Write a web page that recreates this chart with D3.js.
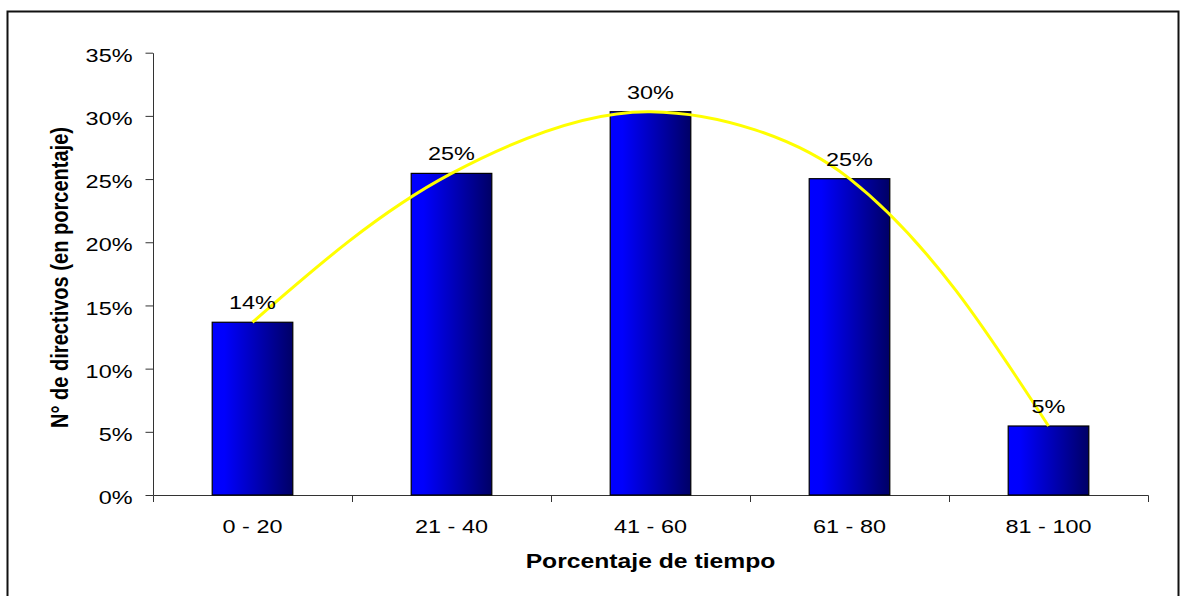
<!DOCTYPE html>
<html>
<head>
<meta charset="utf-8">
<script src="https://cdn.jsdelivr.net/npm/d3@7"></script>
<style>
  html, body { margin: 0; padding: 0; background: #fff; }
  svg { display: block; }
  text { font-family: "Liberation Sans", Arial, sans-serif; }
</style>
</head>
<body>
<svg id="chart" width="1182" height="596"></svg>
<script>
// ---- data ----
const categories = ["0 - 20", "21 - 40", "41 - 60", "61 - 80", "81 - 100"];
const shares = [0.1367, 0.2545, 0.3033, 0.2503, 0.0546];
const yTicks = [0, 0.05, 0.10, 0.15, 0.20, 0.25, 0.30, 0.35];
const xTitle = "Porcentaje de tiempo";
const yTitle = "N° de directivos (en porcentaje)";

// ---- layout ----
const W = 1182, H = 596;
const plot = { left: 153, right: 1148, top: 52.7, bottom: 495 };
const textStretch = 1.26;   // text is drawn horizontally widened
const barFrac = 0.405;      // bar width as a share of the category band
const axisColor = "#333";
const pct = d3.format(".0%");

const svg = d3.select("#chart");

// horizontal gradient for the bars: bright blue to navy
const grad = svg.append("defs").append("linearGradient")
  .attr("id", "barFill").attr("x1", 0).attr("x2", 1).attr("y1", 0).attr("y2", 0);
grad.append("stop").attr("offset", "0%").attr("stop-color", "#0000ff");
grad.append("stop").attr("offset", "15%").attr("stop-color", "#0000fd");
grad.append("stop").attr("offset", "100%").attr("stop-color", "#000066");

// outer frame
svg.append("rect")
  .attr("x", 7.5).attr("y", 11.5).attr("width", 1171).attr("height", H + 10)
  .attr("fill", "none").attr("stroke", "#111").attr("stroke-width", 2);

// ---- scales ----
const x = d3.scaleBand(categories, [plot.left, plot.right]);
const y = d3.scaleLinear([0, 0.35], [plot.bottom, plot.top]);

function stretch(sel, k) {
  sel.each(function () {
    const w = this.getComputedTextLength();
    this.setAttribute("textLength", w * k);
    this.setAttribute("lengthAdjust", "spacingAndGlyphs");
  });
}

// ---- y axis ----
const gy = svg.append("g")
  .attr("transform", `translate(${plot.left},0)`)
  .call(d3.axisLeft(y).tickValues(yTicks).tickFormat(pct)
    .tickSize(7.5).tickSizeOuter(0).tickPadding(13));
gy.attr("font-family", null).attr("font-size", null);
gy.select(".domain").attr("stroke", axisColor);
gy.selectAll(".tick line").attr("stroke", axisColor);
gy.selectAll(".tick text")
  .attr("font-size", 18.6).attr("fill", "#000").attr("dy", "0.465em")
  .call(stretch, textStretch);

// ---- x axis ----
const gx = svg.append("g")
  .attr("transform", `translate(0,${plot.bottom})`)
  .call(d3.axisBottom(x).tickSize(0).tickSizeOuter(0).tickPadding(25));
gx.attr("font-family", null).attr("font-size", null);
gx.select(".domain").attr("stroke", axisColor);
gx.selectAll(".tick text")
  .attr("font-size", 18.6).attr("fill", "#000")
  .call(stretch, textStretch);

// tick marks sit between the categories
const bounds = categories.map(c => x(c)).concat([x(categories[categories.length - 1]) + x.bandwidth()]);
gx.selectAll("line.bound").data(bounds).join("line")
  .attr("class", "bound")
  .attr("x1", d => Math.round(d) + 0.5).attr("x2", d => Math.round(d) + 0.5)
  .attr("y1", 0.5).attr("y2", 7)
  .attr("stroke", axisColor);

// ---- bars ----
const rows = categories.map((c, i) => ({ c, v: shares[i] }));
svg.append("g").selectAll("rect").data(rows).join("rect")
  .attr("x", d => x(d.c) + x.bandwidth() * (1 - barFrac) / 2)
  .attr("width", x.bandwidth() * barFrac)
  .attr("y", d => y(d.v))
  .attr("height", d => y(0) - y(d.v))
  .attr("fill", "url(#barFill)")
  .attr("stroke", "#000").attr("stroke-width", 1.2);

// ---- smoothed line through the bar tops ----
// Bezier spline: interior handles follow the neighbour chord, scaled by the
// adjacent segment lengths; the two ends use a natural (zero-curvature) handle.
function smoothCurve(context) {
  let pts = [];
  return {
    areaStart() {}, areaEnd() {},
    lineStart() { pts = []; },
    point(px, py) { pts.push([+px, +py]); },
    lineEnd() {
      const n = pts.length;
      if (!n) return;
      context.moveTo(pts[0][0], pts[0][1]);
      if (n === 2) { context.lineTo(pts[1][0], pts[1][1]); return; }
      if (n < 2) return;
      const dist = (a, b) => Math.hypot(b[0] - a[0], b[1] - a[1]);
      const hin = [], hout = [];
      for (let i = 1; i < n - 1; i++) {
        const d0 = dist(pts[i - 1], pts[i]), d1 = dist(pts[i], pts[i + 1]);
        const tx = pts[i + 1][0] - pts[i - 1][0], ty = pts[i + 1][1] - pts[i - 1][1];
        const s = 1 / (3 * (d0 + d1));
        hin[i] = [pts[i][0] - tx * s * d0, pts[i][1] - ty * s * d0];
        hout[i] = [pts[i][0] + tx * s * d1, pts[i][1] + ty * s * d1];
      }
      hout[0] = [(pts[0][0] + hin[1][0]) / 2, (pts[0][1] + hin[1][1]) / 2];
      hin[n - 1] = [(pts[n - 1][0] + hout[n - 2][0]) / 2, (pts[n - 1][1] + hout[n - 2][1]) / 2];
      for (let i = 0; i < n - 1; i++) {
        context.bezierCurveTo(hout[i][0], hout[i][1], hin[i + 1][0], hin[i + 1][1], pts[i + 1][0], pts[i + 1][1]);
      }
    }
  };
}

const trend = d3.line()
  .x(d => x(d.c) + x.bandwidth() / 2)
  .y(d => y(d.v))
  .curve(smoothCurve);

svg.append("path").datum(rows)
  .attr("d", trend)
  .attr("fill", "none")
  .attr("stroke", "#ffff00").attr("stroke-width", 3)
  .attr("stroke-linejoin", "round");

// ---- value labels ----
svg.append("g").selectAll("text").data(rows).join("text")
  .attr("x", d => x(d.c) + x.bandwidth() / 2)
  .attr("y", d => y(d.v) - 13)
  .attr("text-anchor", "middle")
  .attr("font-size", 18.6).attr("fill", "#000")
  .text(d => pct(d.v))
  .call(stretch, textStretch);

// ---- axis titles ----
svg.append("text")
  .attr("x", (plot.left + plot.right) / 2).attr("y", 568.3)
  .attr("text-anchor", "middle")
  .attr("font-size", 19.6).attr("font-weight", "bold").attr("fill", "#000")
  .text(xTitle)
  .call(stretch, textStretch);

svg.append("text")
  .attr("transform", `translate(68,277.5) scale(${textStretch},1) rotate(-90)`)
  .attr("text-anchor", "middle")
  .attr("font-size", 19).attr("font-weight", "bold").attr("fill", "#000")
  .text(yTitle)
  .attr("textLength", 301).attr("lengthAdjust", "spacingAndGlyphs");
</script>
</body>
</html>
